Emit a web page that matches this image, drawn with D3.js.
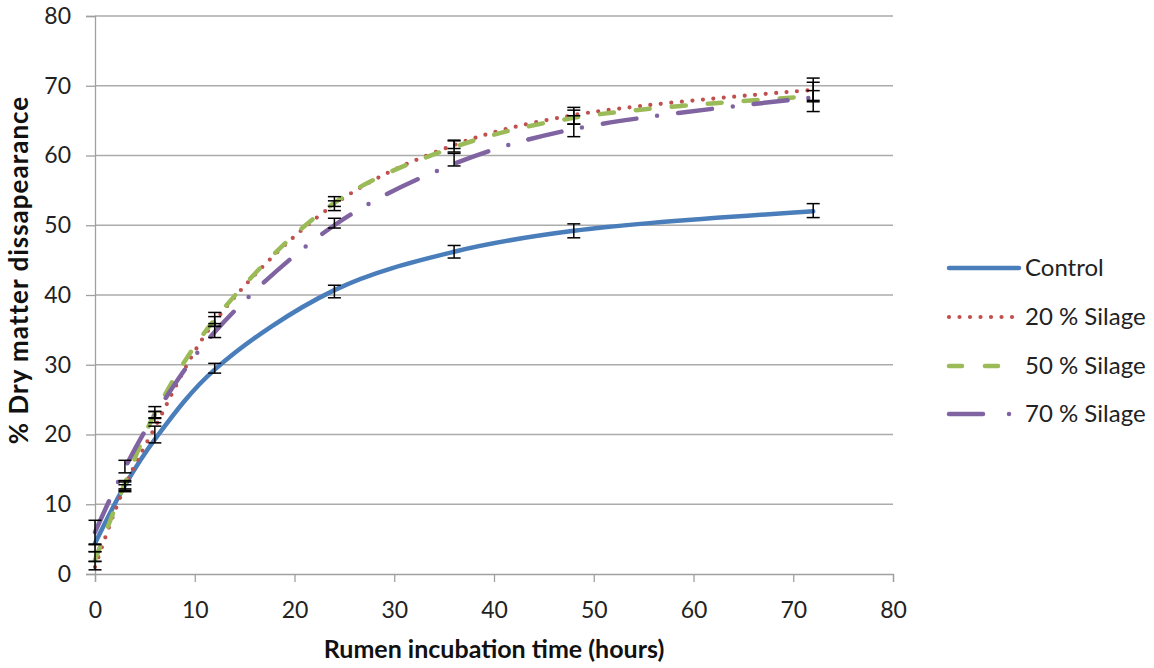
<!DOCTYPE html>
<html>
<head>
<meta charset="utf-8">
<script src="https://cdn.jsdelivr.net/npm/d3@7/dist/d3.min.js"></script>
<style>
  body { margin: 0; background: #fff; }
  svg { display: block; font-family: Lato, "Open Sans", sans-serif; }
</style>
</head>
<body>
<svg id="chart" width="1154" height="668"></svg>
<script>
// ---- data ----
const times = [0, 3, 6, 12, 24, 36, 48, 72];
const seriesNames = ["Control", "20 % Silage", "50 % Silage", "70 % Silage"];
// fitted curves
const curveControl = [4.4, 12.7, 19.3, 29.3, 40.7, 46.2, 49.2, 52.0];
const curve20 = [1.0, 12.6, 21.0, 36.2, 53.0, 61.5, 65.8, 69.4];
const curve50 = [2.0, 13.0, 23.0, 36.5, 53.2, 61.2, 65.4, 68.5];
const curve70 = [6.0, 15.2, 22.8, 34.7, 50.0, 58.8, 63.8, 68.3];
// observed means and errors (error bars)
const meanControl = [3.7, 12.8, 20.0, 29.5, 40.5, 46.2, 49.2, 52.1];
const errControl = [0.5, 0.6, 1.2, 0.7, 0.9, 0.9, 1.0, 1.0];
const mean20 = [1.2, 12.3, 22.5, 36.5, 52.8, 61.6, 65.7, 69.5];
const err20 = [0.6, 0.5, 0.8, 1.0, 0.7, 0.6, 1.2, 1.6];
const mean50 = [2.5, 12.6, 23.2, 36.2, 53.4, 61.3, 65.5, 68.5];
const err50 = [0.7, 0.6, 0.8, 0.7, 0.7, 0.8, 1.0, 0.8];
const mean70 = [6.0, 15.4, 22.8, 34.9, 50.3, 59.4, 64.2, 68.4];
const err70 = [1.7, 0.9, 0.5, 1.0, 0.7, 0.9, 1.5, 2.1];
const xTicks = [0, 10, 20, 30, 40, 50, 60, 70, 80];
const yTicks = [0, 10, 20, 30, 40, 50, 60, 70, 80];
const xTitle = "Rumen incubation time (hours)";
const yTitle = "% Dry matter dissapearance";

// ---- layout ----
const svg = d3.select("#chart");
const pLeft = 95, pRight = 893, pTop = 16, pBottom = 574;
const x = d3.scaleLinear().domain([0, 80]).range([pLeft, pRight]);
const y = d3.scaleLinear().domain([0, 80]).range([pBottom, pTop]);

const styles = [
  { color: "#4A7EBB", width: 4.5, dash: null, cap: "round" },
  { color: "#C0504D", width: 4.2, dash: "0,10.5", cap: "round" },
  { color: "#9BBB59", width: 4.5, dash: "14,22", cap: "round" },
  { color: "#8064A2", width: 4.5, dash: "34,21,0,21", cap: "round" }
];
const curves = [curveControl, curve20, curve50, curve70];
const means = [meanControl, mean20, mean50, mean70];
const errs = [errControl, err20, err50, err70];

// gridlines
svg.append("g").selectAll("line").data(yTicks.filter(d => d > 0)).join("line")
  .attr("x1", pLeft).attr("x2", pRight)
  .attr("y1", d => y(d)).attr("y2", d => y(d))
  .attr("stroke", "#ababab").attr("stroke-width", 1.3);

// axes
const xAxis = svg.append("g").attr("transform", `translate(0,${pBottom})`)
  .call(d3.axisBottom(x).tickValues(xTicks).tickSize(8).tickPadding(20).tickFormat(d3.format("d")));
const yAxis = svg.append("g").attr("transform", `translate(${pLeft},0)`)
  .call(d3.axisLeft(y).tickValues(yTicks).tickSize(9).tickPadding(15).tickFormat(d3.format("d")));
[xAxis, yAxis].forEach(a => {
  a.select(".domain").attr("stroke", "#a0a0a0").attr("stroke-width", 1.3);
  a.selectAll(".tick line").attr("stroke", "#a0a0a0").attr("stroke-width", 1.3);
  a.selectAll(".tick text").attr("fill", "#222").style("font-size", "23px")
    .style("font-family", "Lato, 'Open Sans', sans-serif");
});

// lines
const lineGen = d3.line().x((d, i) => x(times[i])).y(d => y(d)).curve(d3.curveCatmullRom.alpha(0.5));
curves.forEach((c, k) => {
  const s = styles[k];
  svg.append("path").datum(c).attr("d", lineGen)
    .attr("fill", "none").attr("stroke", s.color).attr("stroke-width", s.width)
    .attr("stroke-linecap", s.cap).attr("stroke-dasharray", s.dash);
});

// error bars
const cap = 6.5;
means.forEach((m, k) => {
  const g = svg.append("g").attr("stroke", "#000").attr("stroke-width", 1.5);
  m.forEach((v, i) => {
    const e = errs[k][i];
    const cx = x(times[i]);
    g.append("line").attr("x1", cx).attr("x2", cx).attr("y1", y(v + e)).attr("y2", y(v - e));
    g.append("line").attr("x1", cx - cap).attr("x2", cx + cap).attr("y1", y(v + e)).attr("y2", y(v + e));
    g.append("line").attr("x1", cx - cap).attr("x2", cx + cap).attr("y1", y(v - e)).attr("y2", y(v - e));
  });
});

// axis titles
svg.append("text").attr("x", (pLeft + pRight) / 2).attr("y", 658)
  .attr("text-anchor", "middle").style("font-size", "25px").style("font-weight", "bold")
  .attr("fill", "#111").text(xTitle);
svg.append("text").attr("transform", `translate(28,${270}) rotate(-90)`)
  .attr("text-anchor", "middle").style("font-size", "26px").style("font-weight", "bold")
  .style("letter-spacing", "1px")
  .attr("fill", "#111").text(yTitle);

// legend
const legY = [268, 317, 366, 414];
seriesNames.forEach((name, k) => {
  const s = styles[k];
  const ly = legY[k];
  svg.append("line").attr("x1", 949).attr("x2", 1019).attr("y1", ly).attr("y2", ly)
    .attr("stroke", s.color).attr("stroke-width", s.width).attr("stroke-linecap", s.cap)
    .attr("stroke-dasharray", k === 2 ? "13,23" : k === 3 ? "34,26,0,20" : s.dash);
  svg.append("text").attr("x", 1025).attr("y", ly + 8).style("font-size", "24px")
    .attr("fill", "#222").text(name);
});
</script>
</body>
</html>
